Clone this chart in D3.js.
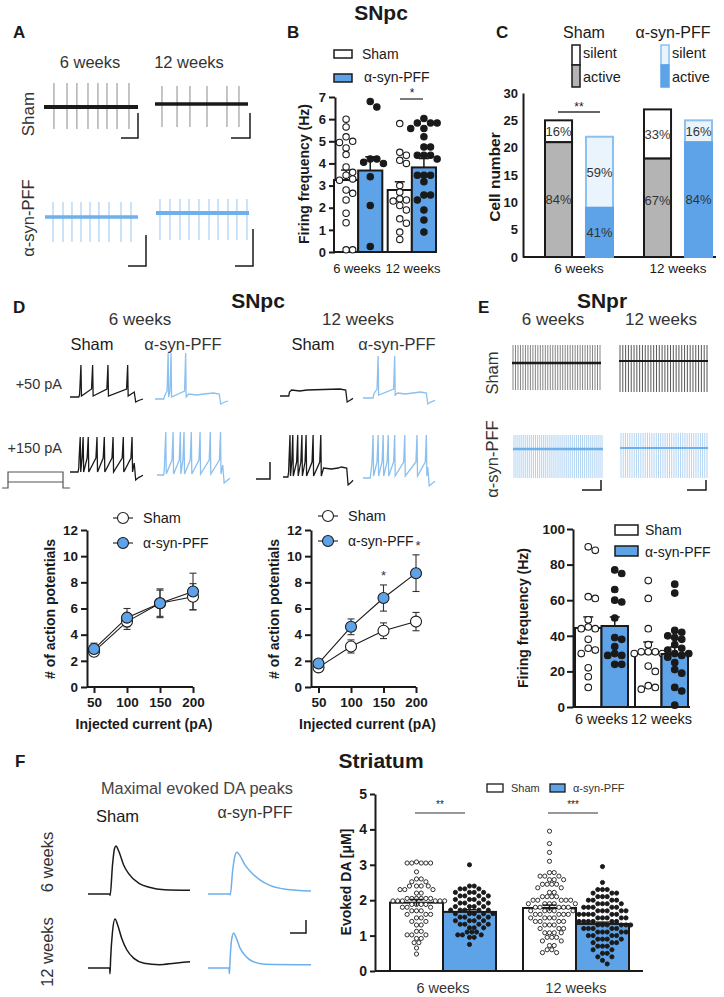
<!DOCTYPE html>
<html><head><meta charset="utf-8">
<script src="https://cdn.jsdelivr.net/npm/d3@7"></script>
<style>body{margin:0;background:#fff}</style>
</head><body><svg id="c" width="724" height="997"></svg>
<script>
// ================= DATA =================
const groups = ["6 weeks", "12 weeks"];
const conditions = ["Sham", "α-syn-PFF"];

// A: spike times (% of sweep)
const A_sham6 = [10.6, 24.5, 35, 46.8, 57.4, 67, 77.7, 90.4];
const A_sham12 = [7.5, 23.7, 37.6, 55.9, 77.4, 90.3];
const A_pff6 = [8.6, 19.4, 29, 38.7, 48.4, 58, 68.8, 81.7, 92.5];
const A_pff12 = [4.3, 15, 25.8, 35.5, 46.2, 57, 66.7, 77.4, 87, 97.8];

// B: SNpc firing frequency (Hz)
const B_ticks = [0, 1, 2, 3, 4, 5, 6, 7];
const B_mean_sham = [3.25, 2.8];
const B_sem_sham = [0.45, 0.37];
const B_mean_pff = [3.68, 3.82];
const B_sem_pff = [0.62, 0.4];
const B_sham6 = [6.0, 5.65, 5.2, 5.0, 4.95, 4.7, 4.4, 3.84, 3.6, 3.47, 3.3, 3.24, 2.8, 2.65, 2.35, 1.75, 1.32, 0.1, 0.1];
const B_pff6 = [6.8, 6.55, 4.2, 4.2, 4.05, 4.0, 3.4, 2.1, 0.25];
const B_sham12 = [5.8, 4.5, 4.37, 4.14, 4.0, 3.0, 2.7, 2.4, 2.35, 2.3, 2.1, 1.9, 1.5, 1.3, 0.9, 0.57];
const B_pff12 = [6.03, 5.83, 5.83, 5.83, 5.58, 5.58, 5.2, 4.74, 4.74, 4.37, 4.37, 4.37, 4.2, 3.47, 3.47, 3.47, 3.17, 2.57, 2.57, 2.35, 1.9, 1.44, 0.9];

// C: cell numbers
const C_ticks = [0, 5, 10, 15, 20, 25, 30];
const C_total_sham = [25, 27];
const C_active_sham = [21, 18];
const C_total_pff = [22, 25];
const C_active_pff = [9, 21];

// D: action potentials vs injected current
const D_currents = [50, 100, 150, 200];
const D_ticks = [0, 2, 4, 6, 8, 10, 12];
const D6_sham = [2.7, 5.0, 6.4, 6.9];
const D6_sham_err = [0.3, 0.6, 1.0, 1.0];
const D6_pff = [2.9, 5.3, 6.4, 7.3];
const D6_pff_err = [0.45, 0.7, 1.1, 1.4];
const D12_sham = [1.5, 3.1, 4.3, 5.0];
const D12_sham_err = [0.15, 0.5, 0.6, 0.7];
const D12_pff = [1.8, 4.6, 6.8, 8.7];
const D12_pff_err = [0.2, 0.6, 1.0, 1.4];
// D traces: spike times (% of sweep)
const D_50_sham6 = [15, 31, 52, 79];
const D_50_pff6 = [18, 22, 42];
const D_50_sham12 = [];
const D_50_pff12 = [21, 44];
const D_150_sham6 = [14, 18, 25, 37, 47, 59, 73, 85];
const D_150_pff6 = [12, 22, 32, 37, 47, 59, 73, 87];
const D_150_sham12 = [10, 14, 21, 27, 33, 43, 54];
const D_150_pff12 = [14, 21, 28, 35, 44, 58, 75, 88];

// E: SNpr
const E_spike_counts = [36, 32, 46, 40]; // sham6, sham12, pff6, pff12
const E_ticks = [0, 20, 40, 60, 80, 100];
const E_mean_sham = [44.4, 30.3];
const E_sem_sham = [6.2, 6.2];
const E_mean_pff = [45.5, 29.8];
const E_sem_pff = [5.1, 3.9];
const E_sham6 = [90, 88, 62, 61, 49, 45, 44, 44, 38, 33, 32, 30, 22, 17, 11];
const E_pff6 = [77, 75, 66, 60, 59, 50, 39, 38, 34, 30, 29, 29, 24, 24];
const E_sham12 = [71, 61, 44, 35, 31, 31, 31, 30, 30, 23, 20, 12, 11, 10];
const E_pff12 = [69, 64, 43, 42, 40, 39, 38, 35, 33, 32, 30, 30, 29, 28, 25, 21, 19, 11, 9, 1];

// F: DA traces [time %, amplitude]
const F_trace_sham6 = [[0,0],[21.5,0],[21.7,-0.03],[24,0.6],[26,0.95],[27.5,1],[30,0.9],[35,0.6],[40,0.42],[50,0.22],[60,0.14],[75,0.09],[100,0.08]];
const F_trace_pff6 = [[0,0],[21.4,0],[21.6,-0.02],[24,0.5],[26,0.78],[28,0.87],[31,0.8],[36,0.6],[42,0.45],[50,0.3],[60,0.18],[75,0.1],[100,0.06]];
const F_trace_sham12 = [[0,0],[21.3,0],[21.6,-0.12],[22.2,0.2],[24,0.75],[26.5,1.02],[29,0.9],[33,0.62],[38,0.38],[45,0.2],[55,0.1],[70,0.07],[85,0.1],[100,0.13]];
const F_trace_pff12 = [[0,0],[20.4,0],[20.8,-0.12],[21.5,0.2],[23,0.6],[25,0.73],[27,0.65],[31,0.42],[36,0.26],[43,0.14],[55,0.08],[100,0.07]];
// F: evoked DA (µM) – [value, count]
const F_ticks = [0, 1, 2, 3, 4, 5];
const F_mean_sham = [1.93, 1.78];
const F_sem_sham = [0.09, 0.08];
const F_mean_pff = [1.67, 1.33];
const F_sem_pff = [0.06, 0.05];
const F_sham6 = [[3.08,1],[3.05,5],[2.8,1],[2.6,2],[2.52,2],[2.4,4],[2.3,3],[2.2,2],[2.05,6],[1.98,6],[1.88,4],[1.8,3],[1.7,3],[1.6,3],[1.5,2],[1.4,2],[1.3,2],[1.12,2],[1.02,3],[0.92,2],[0.8,2],[0.65,1],[0.48,1]];
const F_pff6 = [[3.0,1],[2.4,2],[2.32,3],[2.22,4],[2.12,4],[2.02,4],[1.92,4],[1.82,4],[1.72,5],[1.62,5],[1.52,4],[1.42,4],[1.32,4],[1.22,3],[1.1,3],[1.02,3],[0.95,2],[0.75,1]];
const F_sham12 = [[3.95,1],[3.6,1],[3.35,1],[3.1,1],[2.78,2],[2.68,3],[2.58,3],[2.45,4],[2.35,2],[2.22,2],[2.1,4],[2.0,5],[1.9,5],[1.8,5],[1.7,5],[1.6,5],[1.5,4],[1.4,4],[1.3,3],[1.2,3],[1.08,4],[0.95,3],[0.85,2],[0.72,2],[0.6,2],[0.52,2]];
const F_pff12 = [[2.95,1],[2.5,1],[2.3,3],[2.2,3],[2.1,3],[2.0,4],[1.9,4],[1.8,5],[1.7,5],[1.6,6],[1.5,5],[1.4,6],[1.3,6],[1.2,5],[1.1,5],[1.0,4],[0.9,4],[0.8,3],[0.7,3],[0.6,2],[0.5,2],[0.4,2],[0.3,1],[0.2,1]];

// ================= DRAWING =================
const FONT = '"Liberation Sans", Arial, Helvetica, sans-serif';
const INK = "#1a1a1a", BLUE = "#5ea3e8", LBLUE = "#8cc0ee", PALE = "#eaf4fd", GRAY = "#b4b4b4";
const fmtInt = d3.format("d");
const svg = d3.select("#c");
svg.append("rect").attr("width", 724).attr("height", 997).attr("fill", "#fff");

function T(x, y, s, size, o = {}) {
  const t = svg.append("text").attr("x", x).attr("y", y).text(s)
    .attr("font-size", size).attr("font-family", FONT)
    .attr("font-weight", o.bold ? "bold" : "normal")
    .attr("text-anchor", o.anchor || "middle").attr("fill", o.fill || INK);
  if (o.rot) t.attr("transform", `rotate(-90,${x},${y})`).attr("dominant-baseline", "central");
  return t;
}
function styleAxis(g, size) {
  g.selectAll("path,line").attr("stroke", INK).attr("stroke-width", 2);
  g.selectAll("text").attr("font-size", size).attr("font-weight", "bold").attr("font-family", FONT).attr("fill", INK);
}
function expand(pairs) { const out = []; pairs.forEach(([v, c]) => { for (let i = 0; i < c; i++) out.push(v); }); return out; }
function swarm(vals, y, d) {
  const pts = vals.map(v => ({ v, y: y(v) })).sort((a, b) => b.v - a.v);
  const placed = [];
  pts.forEach(p => {
    for (let k = 0; k < 400; k++) {
      const off = k === 0 ? 0 : (k % 2 ? 1 : -1) * Math.ceil(k / 2) * d * 0.5;
      if (placed.every(q => Math.hypot(q.x - off, q.y - p.y) >= d - 0.01)) { p.x = off; break; }
    }
    placed.push(p);
  });
  return placed;
}
function dots(cx, vals, y, r, d, filled, sw) {
  swarm(vals, y, d).forEach(p => {
    svg.append("circle").attr("cx", cx + p.x).attr("cy", p.y).attr("r", r)
      .attr("fill", filled ? INK : "#fff").attr("stroke", INK).attr("stroke-width", sw || 1.1);
  });
}
function errUp(cx, y, m, e, w, sw) {
  svg.append("line").attr("x1", cx).attr("x2", cx).attr("y1", y(m)).attr("y2", y(m + e)).attr("stroke", INK).attr("stroke-width", sw || 1.5);
  svg.append("line").attr("x1", cx - w / 2).attr("x2", cx + w / 2).attr("y1", y(m + e)).attr("y2", y(m + e)).attr("stroke", INK).attr("stroke-width", sw || 1.5);
}
function path(d, stroke, sw) {
  return svg.append("path").attr("d", d).attr("fill", "none").attr("stroke", stroke).attr("stroke-width", sw);
}

// ---------- titles / panel letters ----------
T(381, 20, "SNpc", 21, { bold: true });
T(13, 38, "A", 17, { bold: true, anchor: "start" });
T(287, 38, "B", 17, { bold: true, anchor: "start" });
T(496, 38, "C", 17, { bold: true, anchor: "start" });
T(13, 313, "D", 17, { bold: true, anchor: "start" });
T(478, 313, "E", 17, { bold: true, anchor: "start" });
T(15, 767, "F", 17, { bold: true, anchor: "start" });
T(258, 308, "SNpc", 21, { bold: true });
T(602, 308, "SNpr", 21, { bold: true });
T(381, 768, "Striatum", 21, { bold: true });

// ---------- A ----------
T(90, 68, "6 weeks", 16.5, { fill: "#333" });
T(189, 68, "12 weeks", 16.5, { fill: "#333" });
T(28, 114, "Sham", 17, { rot: true, fill: "#333" });
T(28, 218, "α-syn-PFF", 16.5, { rot: true, fill: "#333" });
function spikeTrain(times, x0, x1, base, up, down, spikeCol, baseCol, baseW) {
  const x = d3.scaleLinear().domain([0, 100]).range([x0, x1]);
  times.forEach(t => svg.append("line").attr("x1", x(t)).attr("x2", x(t)).attr("y1", base - up).attr("y2", base + down)
    .attr("stroke", spikeCol).attr("stroke-width", 1));
  path(`M${x0},${base}H${x1}`, baseCol, baseW);
}
spikeTrain(A_sham6, 44, 138, 107, 24, 22, "#8a8a8a", INK, 4);
spikeTrain(A_sham12, 155, 248, 104, 18, 23, "#8a8a8a", INK, 3.5);
spikeTrain(A_pff6, 45, 138, 217, 15, 25, "#9ac6ee", "#6eb0ec", 3.5);
spikeTrain(A_pff12, 156, 249, 213, 14, 27, "#9ac6ee", "#6eb0ec", 4);
path("M121,138H138V113", INK, 1.5);
path("M231,138H250V113", INK, 1.5);
path("M128,266H146V235", INK, 1.5);
path("M235,266H253V229", INK, 1.5);

// ---------- B ----------
{
  const y = d3.scaleLinear().domain([0, 7]).range([252, 97]);
  const x = d3.scaleBand().domain(groups).range([334, 436]).paddingInner(0.1);
  const xi = d3.scaleBand().domain(conditions).range([0, x.bandwidth()]);
  const ga = svg.append("g").attr("transform", "translate(335,0)")
    .call(d3.axisLeft(y).tickValues(B_ticks).tickFormat(fmtInt).tickSize(6).tickSizeOuter(0).tickPadding(3));
  styleAxis(ga, 13);
  path("M335,252H437", INK, 2);
  const means = [B_mean_sham, B_mean_pff], sems = [B_sem_sham, B_sem_pff];
  const pts = [[B_sham6, B_pff6], [B_sham12, B_pff12]];
  groups.forEach((g, gi) => conditions.forEach((c, ci) => {
    const x0 = x(g) + xi(c), w = xi.bandwidth(), m = means[ci][gi];
    svg.append("rect").attr("x", x0).attr("y", y(m)).attr("width", w).attr("height", 252 - y(m))
      .attr("fill", ci ? BLUE : "#fff").attr("stroke", INK).attr("stroke-width", 2);
    errUp(x0 + w / 2, y, m, sems[ci][gi], 10);
    dots(x0 + w / 2, pts[gi][ci], y, 3.2, 6.6, ci === 1);
  }));
  T(357, 273, groups[0], 13);
  T(413, 273, groups[1], 13);
  T(304, 174, "Firing frequency (Hz)", 14, { bold: true, rot: true });
  // legend
  svg.append("rect").attr("x", 334).attr("y", 50).attr("width", 18).attr("height", 8).attr("fill", "#fff").attr("stroke", INK).attr("stroke-width", 1.5);
  svg.append("rect").attr("x", 334).attr("y", 74).attr("width", 18).attr("height", 8).attr("fill", BLUE).attr("stroke", INK).attr("stroke-width", 1.5);
  T(362, 59, "Sham", 14, { anchor: "start" });
  T(364, 82, "α-syn-PFF", 14, { anchor: "start" });
  path("M400,99H423", "#333", 1.3);
  T(412, 97, "*", 12);
}

// ---------- C ----------
{
  const y = d3.scaleLinear().domain([0, 30]).range([257, 93]);
  const x = d3.scaleBand().domain(groups).range([545, 712]).paddingInner(0.313);
  const xi = d3.scaleBand().domain(conditions).range([0, x.bandwidth()]).paddingInner(0.34);
  const ga = svg.append("g").attr("transform", "translate(523,0)")
    .call(d3.axisLeft(y).tickValues(C_ticks).tickFormat(fmtInt).tickSize(0).tickSizeOuter(0).tickPadding(5));
  styleAxis(ga, 13);
  path("M523,257H716", INK, 2);
  const tot = [C_total_sham, C_total_pff], act = [C_active_sham, C_active_pff];
  groups.forEach((g, gi) => conditions.forEach((c, ci) => {
    const x0 = x(g) + xi(c), w = xi.bandwidth();
    const T0 = tot[ci][gi], A0 = act[ci][gi];
    const strokeC = ci ? LBLUE : INK;
    svg.append("rect").attr("x", x0).attr("y", y(T0)).attr("width", w).attr("height", y(A0) - y(T0))
      .attr("fill", ci ? PALE : "#fff").attr("stroke", strokeC).attr("stroke-width", 2);
    svg.append("rect").attr("x", x0).attr("y", y(A0)).attr("width", w).attr("height", 257 - y(A0))
      .attr("fill", ci ? BLUE : GRAY).attr("stroke", ci ? BLUE : INK).attr("stroke-width", 2);
    const ps = Math.round((T0 - A0) / T0 * 100), pa = 100 - ps;
    T(x0 + w / 2, y((T0 + A0) / 2) + 4.5, ps + "%", 13, { fill: "#333" });
    T(x0 + w / 2, y(Math.max(A0 / 2, A0 > 15 ? 10.3 : A0 / 2)) + 4.5, pa + "%", 13, { fill: "#333" });
  }));
  groups.forEach(g => T(x(g) + x.bandwidth() / 2, 273, g, 13.5));
  T(494, 177, "Cell number", 15.5, { bold: true, rot: true });
  path("M558,112H600", "#333", 1.3);
  T(579, 111, "**", 12);
  // legend
  T(584, 38, "Sham", 16);
  T(673, 38, "α-syn-PFF", 16);
  svg.append("rect").attr("x", 572).attr("y", 45).attr("width", 8).attr("height", 20).attr("fill", "#fff").attr("stroke", INK).attr("stroke-width", 1.5);
  svg.append("rect").attr("x", 572).attr("y", 65).attr("width", 8).attr("height", 22).attr("fill", GRAY).attr("stroke", INK).attr("stroke-width", 1.5);
  svg.append("rect").attr("x", 661).attr("y", 45).attr("width", 8).attr("height", 20).attr("fill", PALE).attr("stroke", LBLUE).attr("stroke-width", 1.5);
  svg.append("rect").attr("x", 661).attr("y", 65).attr("width", 8).attr("height", 22).attr("fill", BLUE).attr("stroke", BLUE).attr("stroke-width", 1.5);
  T(583, 58, "silent", 14.5, { anchor: "start" });
  T(583, 82, "active", 14.5, { anchor: "start" });
  T(672, 58, "silent", 14.5, { anchor: "start" });
  T(672, 82, "active", 14.5, { anchor: "start" });
}

// ---------- D traces ----------
T(140, 325, "6 weeks", 17, { fill: "#333" });
T(358, 325, "12 weeks", 17, { fill: "#333" });
T(92, 350, "Sham", 16.5);
T(183, 350, "α-syn-PFF", 16.5, { fill: "#333" });
T(313, 350, "Sham", 16.5);
T(397, 350, "α-syn-PFF", 16.5, { fill: "#333" });
T(62, 389, "+50 pA", 14.5, { anchor: "end", fill: "#333" });
T(62, 453, "+150 pA", 14.5, { anchor: "end", fill: "#333" });
function apTrace(times, c, col) {
  const x = d3.scaleLinear().domain([0, 100]).range([c.x0, c.x1]);
  const pts = [[0, 0], [c.on, 0], [c.on + 1, -c.step]];
  times.forEach(t => { pts.push([t - 1.5, -c.step - c.ramp], [t, -c.peak], [t + 0.7, -c.step + c.ahp]); });
  if (c.tail != null) {
    const lt = times.length ? times[times.length - 1] : c.on;
    pts.push([lt + 4, -c.tail], [lt + 15, -c.tail + 1], [lt + 25, -c.tail], [c.off - 8, -c.tail - 1]);
  }
  pts.push([c.off, -(c.tail != null ? c.tail : c.step + c.ramp * 0.5)], [c.off + 2, c.under], [c.off + 6, c.under * 0.7], [100, c.under * 0.4]);
  path(d3.line().x(p => x(p[0])).y(p => c.base + p[1])(pts), col, 1.3);
}
apTrace(D_50_sham6, { x0: 70, x1: 143, base: 397, on: 12, off: 88, step: 2, ramp: 6, peak: 32, ahp: 1, under: 5 }, INK);
apTrace(D_50_pff6, { x0: 155, x1: 228, base: 399, on: 12, off: 88, step: 3, ramp: 5, peak: 46, ahp: 1, tail: 5, under: 5 }, LBLUE);
apTrace(D_50_sham12, { x0: 280, x1: 353, base: 396, on: 12, off: 90, step: 4, ramp: 0, peak: 0, ahp: 0, tail: 6, under: 6 }, INK);
apTrace(D_50_pff12, { x0: 363, x1: 435, base: 398, on: 14, off: 88, step: 4, ramp: 5, peak: 42, ahp: 1, tail: 5, under: 6 }, LBLUE);
apTrace(D_150_sham6, { x0: 70, x1: 143, base: 472, on: 11, off: 88, step: 4, ramp: 10, peak: 35, ahp: 4, under: 8 }, INK);
apTrace(D_150_pff6, { x0: 157, x1: 230, base: 475, on: 9, off: 90, step: 5, ramp: 10, peak: 43, ahp: 4, under: 8 }, LBLUE);
apTrace(D_150_sham12, { x0: 283, x1: 353, base: 477, on: 7, off: 91, step: 5, ramp: 10, peak: 42, ahp: 4, tail: 9, under: 8 }, INK);
apTrace(D_150_pff12, { x0: 363, x1: 435, base: 478, on: 10, off: 90, step: 6, ramp: 10, peak: 43, ahp: 4, under: 8 }, LBLUE);
path("M2,488H8V472H63V488H70", "#555", 1.2);
path("M8,482H63", "#555", 1.2);
path("M256,479H270V462", INK, 1.5);

// ---------- D plots ----------
function dPlot(ax, xr, sham, shamE, pff, pffE, leg, stars) {
  const y = d3.scaleLinear().domain([0, 12]).range([687, 530]);
  const x = d3.scaleLinear().domain([50, 200]).range(xr);
  const ga = svg.append("g").attr("transform", `translate(${ax},0)`)
    .call(d3.axisLeft(y).tickValues(D_ticks).tickFormat(fmtInt).tickSize(6).tickSizeOuter(0).tickPadding(3));
  styleAxis(ga, 13.5);
  const gb = svg.append("g").attr("transform", "translate(0,687)")
    .call(d3.axisBottom(x).tickValues(D_currents).tickFormat(fmtInt).tickSize(6).tickSizeOuter(0).tickPadding(4));
  styleAxis(gb, 13.5); gb.select(".domain").remove();
  path(`M${ax},687H${xr[1]}`, INK, 2);
  T((ax + xr[1]) / 2 + 4, 729, "Injected current (pA)", 14, { bold: true });
  T(ax - 37, 609, "# of action potentials", 14, { bold: true, rot: true });
  const ser = [[sham, shamE, "#fff"], [pff, pffE, BLUE]];
  ser.forEach(([m, e, f]) => {
    m.forEach((v, i) => {
      const cx = x(D_currents[i]);
      svg.append("line").attr("x1", cx).attr("x2", cx).attr("y1", y(v - e[i])).attr("y2", y(v + e[i])).attr("stroke", "#333").attr("stroke-width", 1.1);
      [v - e[i], v + e[i]].forEach(w => svg.append("line").attr("x1", cx - 3.5).attr("x2", cx + 3.5).attr("y1", y(w)).attr("y2", y(w)).attr("stroke", "#333").attr("stroke-width", 1.1));
    });
    path(d3.line().x((v, i) => x(D_currents[i])).y(v => y(v))(m), INK, 1.1);
  });
  ser.forEach(([m, e, f]) => m.forEach((v, i) => svg.append("circle").attr("cx", x(D_currents[i])).attr("cy", y(v)).attr("r", 5.5)
    .attr("fill", f).attr("stroke", INK).attr("stroke-width", 1.1)));
  // legend
  path(`M${leg[0] - 10},${leg[1]}H${leg[0] + 10}`, INK, 1.1);
  svg.append("circle").attr("cx", leg[0]).attr("cy", leg[1]).attr("r", 5.5).attr("fill", "#fff").attr("stroke", INK).attr("stroke-width", 1.1);
  T(leg[0] + 20, leg[1] + 5, "Sham", 14.5, { anchor: "start" });
  path(`M${leg[0] - 10},${leg[1] + 25}H${leg[0] + 10}`, INK, 1.1);
  svg.append("circle").attr("cx", leg[0]).attr("cy", leg[1] + 25).attr("r", 5.5).attr("fill", BLUE).attr("stroke", INK).attr("stroke-width", 1.1);
  T(leg[0] + 20, leg[1] + 30, "α-syn-PFF", 14, { anchor: "start" });
  stars.forEach(i => T(x(D_currents[i]) + (i === 3 ? 2 : 0), y(pff[i] + pffE[i]) - 5, "*", 13, { fill: "#333" }));
}
dPlot(87, [94, 193], D6_sham, D6_sham_err, D6_pff, D6_pff_err, [123, 518], []);
dPlot(311, [318.5, 416], D12_sham, D12_sham_err, D12_pff, D12_pff_err, [328, 516], [2, 3]);

// ---------- E traces ----------
T(553, 325, "6 weeks", 17, { fill: "#333" });
T(661, 325, "12 weeks", 17, { fill: "#333" });
T(492, 373, "Sham", 16.5, { rot: true, fill: "#333" });
T(492, 459, "α-syn-PFF", 16.5, { rot: true, fill: "#333" });
function regTrain(n, x0, x1, base, up, down, spikeCol, baseCol, baseW) {
  const x = d3.scaleLinear().domain([0, n - 1]).range([x0 + 1, x1 - 1]);
  for (let i = 0; i < n; i++) svg.append("line").attr("x1", x(i)).attr("x2", x(i)).attr("y1", base - up).attr("y2", base + down)
    .attr("stroke", spikeCol).attr("stroke-width", 0.9);
  path(`M${x0},${base}H${x1}`, baseCol, baseW);
}
regTrain(E_spike_counts[0], 512, 601, 363, 18, 27, "#777", INK, 2.5);
regTrain(E_spike_counts[1], 619, 708, 361, 16, 31, "#444", INK, 2.2);
regTrain(E_spike_counts[2], 513, 603, 449, 14, 29, "#a8cff2", "#6eb0ec", 2.5);
regTrain(E_spike_counts[3], 620, 708, 448, 15, 30, "#a8cff2", "#6eb0ec", 2);
path("M582,490H601V480", INK, 1.5);
path("M687,490H706V480", INK, 1.5);

// ---------- E bars ----------
{
  const y = d3.scaleLinear().domain([0, 100]).range([707, 529]);
  const x = d3.scaleBand().domain(groups).range([575, 688]).paddingInner(0.117);
  const xi = d3.scaleBand().domain(conditions).range([0, x.bandwidth()]);
  const ga = svg.append("g").attr("transform", "translate(573,0)")
    .call(d3.axisLeft(y).tickValues(E_ticks).tickFormat(fmtInt).tickSize(6).tickSizeOuter(0).tickPadding(2));
  styleAxis(ga, 13.5);
  path("M573,707H690", INK, 2);
  const means = [E_mean_sham, E_mean_pff], sems = [E_sem_sham, E_sem_pff];
  const pts = [[E_sham6, E_pff6], [E_sham12, E_pff12]];
  groups.forEach((g, gi) => conditions.forEach((c, ci) => {
    const x0 = x(g) + xi(c), w = xi.bandwidth(), m = means[ci][gi];
    svg.append("rect").attr("x", x0).attr("y", y(m)).attr("width", w).attr("height", 707 - y(m))
      .attr("fill", ci ? BLUE : "#fff").attr("stroke", INK).attr("stroke-width", 2);
    errUp(x0 + w / 2, y, m, sems[ci][gi], 10);
    dots(x0 + w / 2, pts[gi][ci], y, 3.3, 7, ci === 1);
  }));
  groups.forEach(g => T(x(g) + x.bandwidth() / 2, 724, g, 14.5));
  T(523, 618, "Firing frequency (Hz)", 14, { bold: true, rot: true });
  svg.append("rect").attr("x", 615).attr("y", 525).attr("width", 23).attr("height", 10).attr("fill", "#fff").attr("stroke", INK).attr("stroke-width", 1.5);
  svg.append("rect").attr("x", 615).attr("y", 546).attr("width", 23).attr("height", 10).attr("fill", BLUE).attr("stroke", INK).attr("stroke-width", 1.5);
  T(645, 535, "Sham", 14, { anchor: "start" });
  T(645, 557, "α-syn-PFF", 14, { anchor: "start" });
}

// ---------- F traces ----------
T(197, 794, "Maximal evoked DA peaks", 16.3, { fill: "#444" });
T(96, 822, "Sham", 16.5, { anchor: "start" });
T(255, 818, "α-syn-PFF", 16, { fill: "#333" });
T(47, 862, "6 weeks", 16.5, { rot: true, fill: "#333" });
T(47, 952, "12 weeks", 16.5, { rot: true, fill: "#333" });
function daTrace(data, x0, x1, base, col) {
  const x = d3.scaleLinear().domain([0, 100]).range([x0, x1]);
  const y = d3.scaleLinear().domain([0, 1]).range([base, base - 48]);
  path(d3.line().x(d => x(d[0])).y(d => y(d[1])).curve(d3.curveMonotoneX)(data), col, 1.5);
}
daTrace(F_trace_sham6, 88, 190, 894, INK);
daTrace(F_trace_pff6, 208, 311, 894, "#6eb0ec");
daTrace(F_trace_sham12, 88, 190, 968, INK);
daTrace(F_trace_pff12, 208, 311, 968, "#6eb0ec");
path("M290,933H306V920", INK, 1.5);

// ---------- F bars ----------
{
  const y = d3.scaleLinear().domain([0, 5]).range([971, 794]);
  const x = d3.scaleBand().domain(groups).range([390, 629]).paddingInner(0.203);
  const xi = d3.scaleBand().domain(conditions).range([0, x.bandwidth()]);
  const ga = svg.append("g").attr("transform", "translate(375,0)")
    .call(d3.axisLeft(y).tickValues(F_ticks).tickFormat(fmtInt).tickSize(5).tickSizeOuter(0).tickPadding(3));
  styleAxis(ga, 14);
  path("M375,971H643", INK, 2);
  const means = [F_mean_sham, F_mean_pff], sems = [F_sem_sham, F_sem_pff];
  const pts = [[F_sham6, F_pff6], [F_sham12, F_pff12]];
  groups.forEach((g, gi) => conditions.forEach((c, ci) => {
    const x0 = x(g) + xi(c), w = xi.bandwidth(), m = means[ci][gi];
    svg.append("rect").attr("x", x0).attr("y", y(m)).attr("width", w).attr("height", 971 - y(m))
      .attr("fill", ci ? BLUE : "#fff").attr("stroke", INK).attr("stroke-width", 2);
  }));
  groups.forEach((g, gi) => conditions.forEach((c, ci) => {
    const x0 = x(g) + xi(c), w = xi.bandwidth();
    dots(x0 + w / 2, expand(pts[gi][ci]), y, 2.1, 4.7, ci === 1, 0.9);
  }));
  groups.forEach((g, gi) => conditions.forEach((c, ci) => {
    const x0 = x(g) + xi(c), w = xi.bandwidth(), m = means[ci][gi];
    errUp(x0 + w / 2, y, m, sems[ci][gi], 14, 1.5);
    svg.append("line").attr("x1", x0 + w / 2).attr("x2", x0 + w / 2).attr("y1", y(m)).attr("y2", y(m - sems[ci][gi])).attr("stroke", INK).attr("stroke-width", 1.5);
  }));
  groups.forEach(g => T(x(g) + x.bandwidth() / 2, 993, g, 14.5, { fill: "#333" }));
  T(346, 882, "Evoked DA [μM]", 14, { bold: true, rot: true });
  path("M415,813H465", "#333", 1.2);
  T(440, 808, "**", 10);
  path("M548,813H598", "#333", 1.2);
  T(573, 808, "***", 10);
  svg.append("rect").attr("x", 487).attr("y", 784).attr("width", 16).attr("height", 8).attr("fill", "#fff").attr("stroke", INK).attr("stroke-width", 1.3);
  svg.append("rect").attr("x", 550).attr("y", 784).attr("width", 15).attr("height", 8).attr("fill", BLUE).attr("stroke", INK).attr("stroke-width", 1.3);
  T(511, 792, "Sham", 11, { anchor: "start", fill: "#333" });
  T(573, 792, "α-syn-PFF", 11, { anchor: "start", fill: "#333" });
}
</script></body></html>
